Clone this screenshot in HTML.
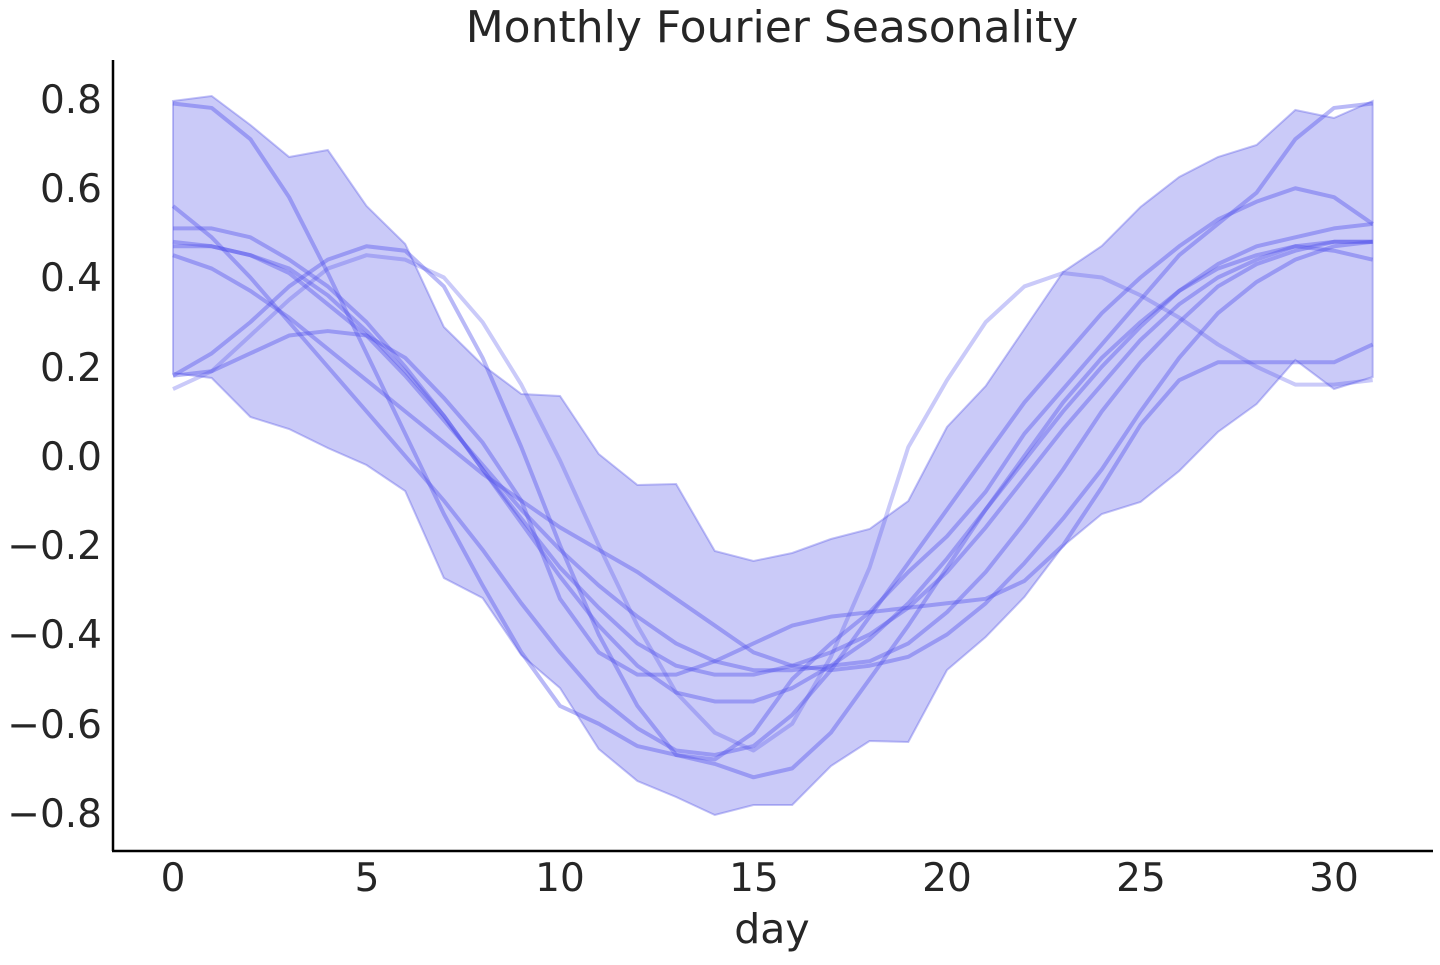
<!DOCTYPE html>
<html><head><meta charset="utf-8"><style>
body{margin:0;background:#fff;}
svg text{font-family:"DejaVu Sans","Liberation Sans",sans-serif;fill:#262626;}
</style></head><body>
<svg id="s" width="1440" height="960" xmlns="http://www.w3.org/2000/svg">
<text x="772" y="42" font-size="44" text-anchor="middle">Monthly Fourier Seasonality</text>
<g id="band"></g>
<g id="lines"></g>
<line x1="113" y1="60" x2="113" y2="851" stroke="#000" stroke-width="2.5"/>
<line x1="112" y1="851" x2="1433" y2="851" stroke="#000" stroke-width="2.5"/>
<g font-size="39" text-anchor="end">
<text x="102" y="113">0.8</text><text x="102" y="202">0.6</text><text x="102" y="291">0.4</text>
<text x="102" y="381">0.2</text><text x="102" y="470">0.0</text><text x="102" y="559">−0.2</text>
<text x="102" y="648">−0.4</text><text x="102" y="738">−0.6</text><text x="102" y="827">−0.8</text>
</g>
<g font-size="39" text-anchor="middle">
<text x="173" y="891">0</text><text x="367" y="891">5</text><text x="560" y="891">10</text>
<text x="754" y="891">15</text><text x="947" y="891">20</text><text x="1141" y="891">25</text>
<text x="1334" y="891">30</text>
</g>
<text x="772" y="943" font-size="41" text-anchor="middle">day</text>
</svg>
<script>
const X=d=>173+38.7*d, Y=v=>456-v*446.25;
const up=[101,96,125,157,150,206,244,327,365,394,396,454,485,484,551,561,553,539,529,501,427,386,329,272,246,207,177,157,145,110,118,101];
const lo=[373,378,417,429,448,465,491,578,598,655,688,749,781,797,815,805,805,766,741,742,670,637,597,546,514,502,471,432,404,360,389,377];
let p=up.map((y,i)=>X(i)+','+y);for(let i=31;i>=0;i--)p.push(X(i)+','+lo[i]);
document.getElementById('band').innerHTML='<polygon points="'+p.join(' ')+'" fill="rgba(95,95,235,0.33)" stroke="rgba(80,80,230,0.35)" stroke-width="2"/>';
const L=[
[.79,.78,.71,.58,.41,.23,.05,-.13,-.29,-.44,-.56,-.6,-.65,-.67,-.69,-.72,-.70,-.62,-.50,-.38,-.25,-.12,.0,.12,.22,.3,.37,.42,.45,.47,.46,.44],
[.56,.49,.40,.30,.20,.10,0,-.1,-.21,-.33,-.44,-.54,-.61,-.66,-.67,-.65,-.58,-.48,-.36,-.24,-.12,.0,.12,.22,.32,.4,.47,.53,.57,.6,.58,.52],
[.51,.51,.49,.44,.38,.3,.2,.09,-.03,-.15,-.27,-.38,-.47,-.53,-.55,-.55,-.52,-.47,-.41,-.33,-.23,-.12,-.01,.1,.2,.29,.37,.43,.47,.49,.51,.52],
[.48,.47,.45,.42,.36,.28,.19,.09,-.03,-.14,-.25,-.34,-.42,-.47,-.49,-.49,-.47,-.44,-.4,-.34,-.26,-.16,-.05,.06,.16,.26,.34,.4,.44,.47,.48,.48],
[.47,.47,.45,.41,.34,.27,.18,.08,-.02,-.12,-.21,-.29,-.36,-.42,-.46,-.48,-.48,-.47,-.46,-.42,-.35,-.26,-.15,-.03,.1,.21,.3,.38,.43,.46,.48,.48],
[.45,.42,.37,.31,.24,.17,.1,.03,-.04,-.1,-.16,-.21,-.26,-.32,-.38,-.44,-.47,-.48,-.47,-.45,-.4,-.33,-.24,-.14,-.03,.1,.22,.32,.39,.44,.47,.48],
[.15,.19,.27,.35,.42,.45,.44,.4,.3,.16,-.01,-.2,-.38,-.53,-.62,-.66,-.6,-.45,-.25,.02,.17,.3,.38,.41,.4,.36,.31,.25,.2,.16,.16,.17],
[.18,.23,.3,.38,.44,.47,.46,.38,.22,.02,-.2,-.4,-.56,-.67,-.68,-.62,-.5,-.42,-.35,-.26,-.18,-.08,.05,.15,.25,.35,.45,.52,.59,.71,.78,.79],
[.18,.19,.23,.27,.28,.27,.22,.13,.03,-.1,-.32,-.44,-.49,-.49,-.46,-.42,-.38,-.36,-.35,-.34,-.33,-.32,-.28,-.2,-.07,.07,.17,.21,.21,.21,.21,.25]];
let h='';
L.forEach((a,k)=>{h+='<polyline points="'+a.map((v,i)=>X(i)+','+Y(v)).join(' ')+'" fill="none" stroke="rgba(80,80,235,'+(k==6?0.3:0.4)+')" stroke-width="4" stroke-linejoin="round"/>';});
document.getElementById('lines').innerHTML=h;
</script>
</body></html>
